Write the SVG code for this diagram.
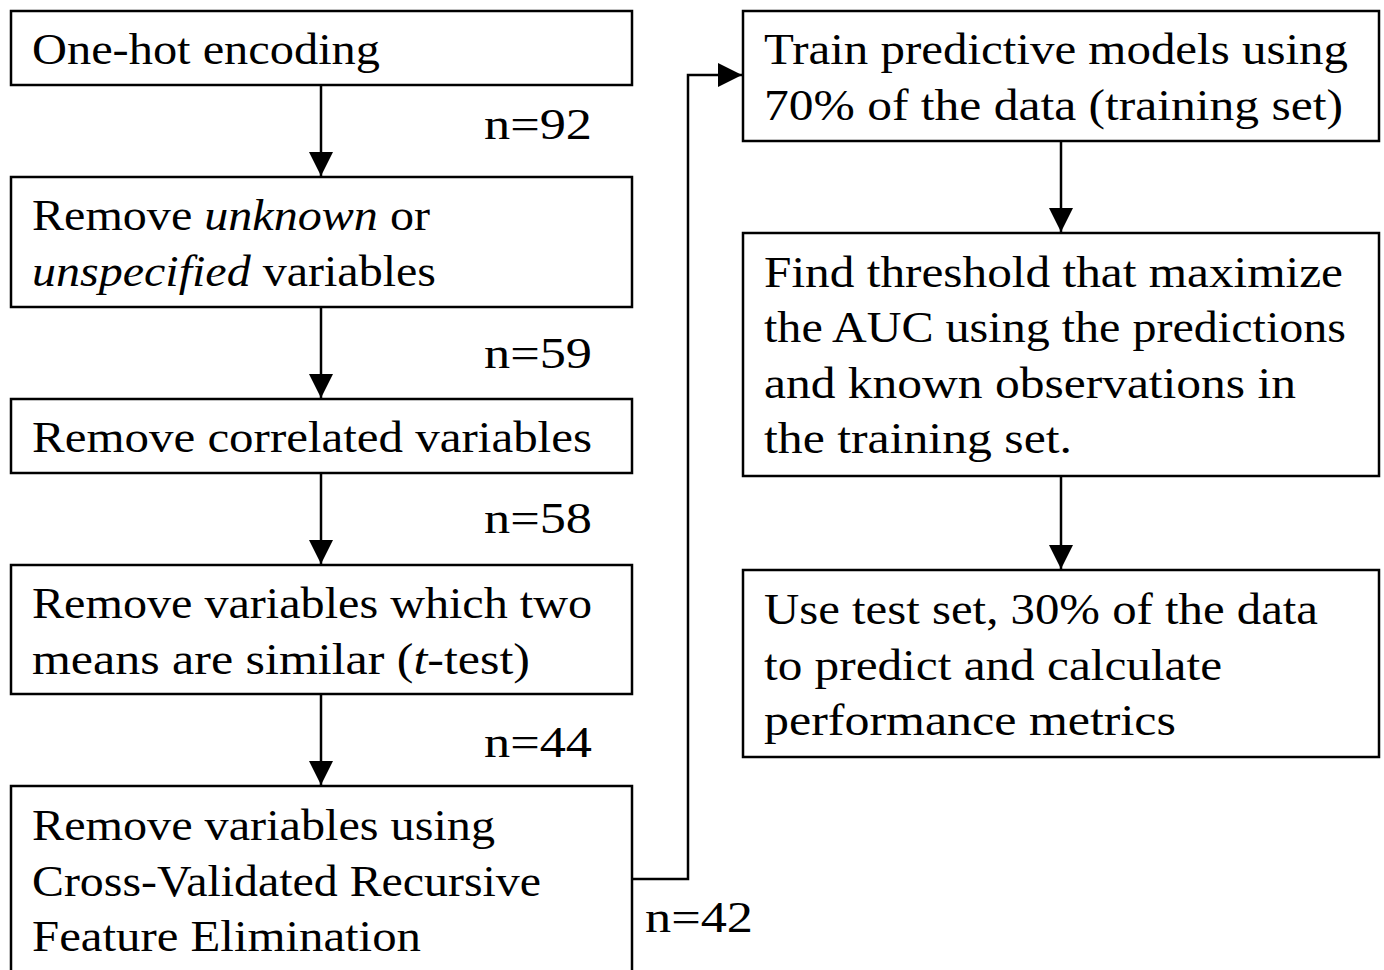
<svg xmlns="http://www.w3.org/2000/svg" width="1384" height="970" viewBox="0 0 1384 970">
<defs>
<marker id="ah" markerWidth="24" markerHeight="24" refX="24" refY="12" orient="auto" markerUnits="userSpaceOnUse">
<path d="M0,0 L24,12 L0,24 z" fill="#000"/>
</marker>
</defs>
<style>
.box{fill:#fff;stroke:#000;stroke-width:2.5}
.t{font-family:"Liberation Serif","DejaVu Serif",serif;font-size:44px;fill:#000}
.i{font-style:italic}
.c{fill:none;stroke:#000;stroke-width:2.5}
</style>
<rect width="1384" height="970" fill="#fff"/>
<g id="connectors">
<path class="c" d="M321,85 V176" marker-end="url(#ah)"/>
<path class="c" d="M321,307 V398" marker-end="url(#ah)"/>
<path class="c" d="M321,473 V564" marker-end="url(#ah)"/>
<path class="c" d="M321,694 V785" marker-end="url(#ah)"/>
<path class="c" d="M632,879 H688 V75 H742" marker-end="url(#ah)"/>
<path class="c" d="M1061,141 V232" marker-end="url(#ah)"/>
<path class="c" d="M1061,476 V569" marker-end="url(#ah)"/>
<text class="t" x="484" y="139" textLength="108" lengthAdjust="spacingAndGlyphs">n=92</text>
<text class="t" x="484" y="368" textLength="108" lengthAdjust="spacingAndGlyphs">n=59</text>
<text class="t" x="484" y="533" textLength="108" lengthAdjust="spacingAndGlyphs">n=58</text>
<text class="t" x="484" y="757" textLength="108" lengthAdjust="spacingAndGlyphs">n=44</text>
<text class="t" x="645" y="932" textLength="108" lengthAdjust="spacingAndGlyphs">n=42</text>
</g>
<g id="n1">
<rect class="box" x="11" y="11" width="621" height="74"/>
<text class="t" x="32" y="64" textLength="348" lengthAdjust="spacingAndGlyphs">One-hot encoding</text>
</g>
<g id="n2">
<rect class="box" x="11" y="177" width="621" height="130"/>
<text class="t" x="32" y="230" textLength="398" lengthAdjust="spacingAndGlyphs">Remove <tspan class="i">unknown</tspan> or</text>
<text class="t" x="32" y="286" textLength="404" lengthAdjust="spacingAndGlyphs"><tspan class="i">unspecified</tspan> variables</text>
</g>
<g id="n3">
<rect class="box" x="11" y="399" width="621" height="74"/>
<text class="t" x="32" y="452" textLength="560" lengthAdjust="spacingAndGlyphs">Remove correlated variables</text>
</g>
<g id="n4">
<rect class="box" x="11" y="565" width="621" height="129"/>
<text class="t" x="32" y="618" textLength="560" lengthAdjust="spacingAndGlyphs">Remove variables which two</text>
<text class="t" x="32" y="674" textLength="498" lengthAdjust="spacingAndGlyphs">means are similar (<tspan class="i">t</tspan>-test)</text>
</g>
<g id="n5">
<rect class="box" x="11" y="786" width="621" height="200"/>
<text class="t" x="32" y="840" textLength="463" lengthAdjust="spacingAndGlyphs">Remove variables using</text>
<text class="t" x="32" y="896" textLength="509" lengthAdjust="spacingAndGlyphs">Cross-Validated Recursive</text>
<text class="t" x="32" y="951" textLength="389" lengthAdjust="spacingAndGlyphs">Feature Elimination</text>
</g>
<g id="n6">
<rect class="box" x="743" y="11" width="636" height="130"/>
<text class="t" x="764" y="64" textLength="584" lengthAdjust="spacingAndGlyphs">Train predictive models using</text>
<text class="t" x="764" y="120" textLength="579" lengthAdjust="spacingAndGlyphs">70% of the data (training set)</text>
</g>
<g id="n7">
<rect class="box" x="743" y="233" width="636" height="243"/>
<text class="t" x="764" y="287" textLength="579" lengthAdjust="spacingAndGlyphs">Find threshold that maximize</text>
<text class="t" x="764" y="342" textLength="582" lengthAdjust="spacingAndGlyphs">the AUC using the predictions</text>
<text class="t" x="764" y="398" textLength="532" lengthAdjust="spacingAndGlyphs">and known observations in</text>
<text class="t" x="764" y="453" textLength="308" lengthAdjust="spacingAndGlyphs">the training set.</text>
</g>
<g id="n8">
<rect class="box" x="743" y="570" width="636" height="187"/>
<text class="t" x="764" y="624" textLength="554" lengthAdjust="spacingAndGlyphs">Use test set, 30% of the data</text>
<text class="t" x="764" y="680" textLength="458" lengthAdjust="spacingAndGlyphs">to predict and calculate</text>
<text class="t" x="764" y="735" textLength="412" lengthAdjust="spacingAndGlyphs">performance metrics</text>
</g>
</svg>
